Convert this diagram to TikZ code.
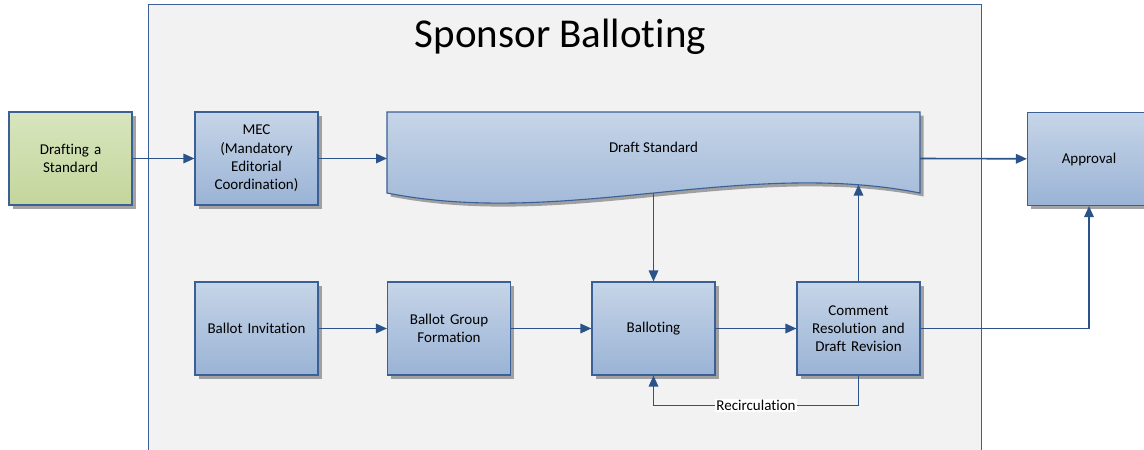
\documentclass[tikz,border=0pt]{standalone}
\usepackage{fontspec}
\setmainfont{Carlito}[RawFeature={-liga;-clig;-rlig;-calt;-dlig}]
\usetikzlibrary{arrows.meta,shadows}

\definecolor{frameblue}{HTML}{3A6096}
\definecolor{flowblue}{HTML}{2B5289}
\definecolor{boxtop}{HTML}{C6D5E8}
\definecolor{boxbot}{HTML}{9AB3D5}
\definecolor{greentop}{HTML}{D8E5BE}
\definecolor{greenbot}{HTML}{C3D69B}
\definecolor{panel}{HTML}{F2F2F2}

\tikzset{
  stepbox/.style={draw=frameblue,line width=1.1pt,top color=boxtop,bottom color=boxbot,
    minimum width=123pt,minimum height=93pt,align=center,text width=115pt,
    font=\fontsize{15}{18.3}\selectfont,
    drop shadow={shadow xshift=3.5pt,shadow yshift=-3.5pt,fill=black!45,opacity=0.8}},
  greenbox/.style={stepbox,top color=greentop,bottom color=greenbot},
  flow/.style={-{Triangle[length=11pt,width=9.5pt]},draw=flowblue,line width=1.6pt}
}

\begin{document}
\begin{tikzpicture}[x=1pt,y=-1pt]
  \useasboundingbox (0,0) rectangle (1144,450);
  \clip (0,0) rectangle (1144,450);

  % Sponsor panel
  \draw[frameblue,fill=panel,line width=0.9pt] (148,4) rectangle (981,460);
  \node (title) at (560.5,37) {\fontsize{41}{48}\selectfont Sponsor Balloting};

  % Top row
  \node[greenbox] (drafting) at (70.5,158.5) {Drafting a\\Standard};
  \node[stepbox] (mec) at (256.5,158.5) {MEC\\(Mandatory\\Editorial\\Coordination)};
  \node[stepbox] (approval) at (1089,159) {Approval};

  % Draft Standard document shape
  \path[draw=frameblue,line width=1.1pt,top color=boxtop,bottom color=boxbot,
    drop shadow={shadow xshift=3.5pt,shadow yshift=-3.5pt,fill=black!45,opacity=0.8}]
    (387,112) -- (920,112) -- (920,193)
    .. controls (742,158) and (565,228) .. (387,193) -- cycle;
  \node[font=\fontsize{15}{18.3}\selectfont] (draftstd) at (653.5,147) {Draft Standard};
  \coordinate (dsleft) at (387,158.5);
  \coordinate (dsright) at (920,158.5);
  \coordinate (dsbotl) at (653.5,193);
  \coordinate (dsbotr) at (858.5,184.6);

  % Bottom row
  \node[stepbox] (invite) at (256.5,328.5) {Ballot Invitation};
  \node[stepbox] (group) at (449,328.5) {Ballot Group\\Formation};
  \node[stepbox] (ballot) at (653.5,328.5) {Balloting};
  \node[stepbox] (comment) at (858.5,328.5) {Comment\\Resolution and\\Draft Revision};

  % Connectors
  \draw[flow] (drafting) -- (mec);
  \draw[flow] (mec) -- (dsleft);
  \draw[flow] (dsright) -- (approval);
  \draw[flow] (dsbotl) -- (ballot);
  \draw[flow] (comment) -- (dsbotr);
  \draw[flow] (invite) -- (group);
  \draw[flow] (group) -- (ballot);
  \draw[flow] (ballot) -- (comment);
  \draw[flow] (comment) -| (approval);
  \draw[flow] (comment.south) -- ++(0,30) coordinate (recirc)
    -| node[pos=0.25,fill=white,inner sep=1pt,font=\fontsize{15}{18.3}\selectfont] (recirclabel) {Recirculation}
    (ballot.south);
\end{tikzpicture}
\end{document}
